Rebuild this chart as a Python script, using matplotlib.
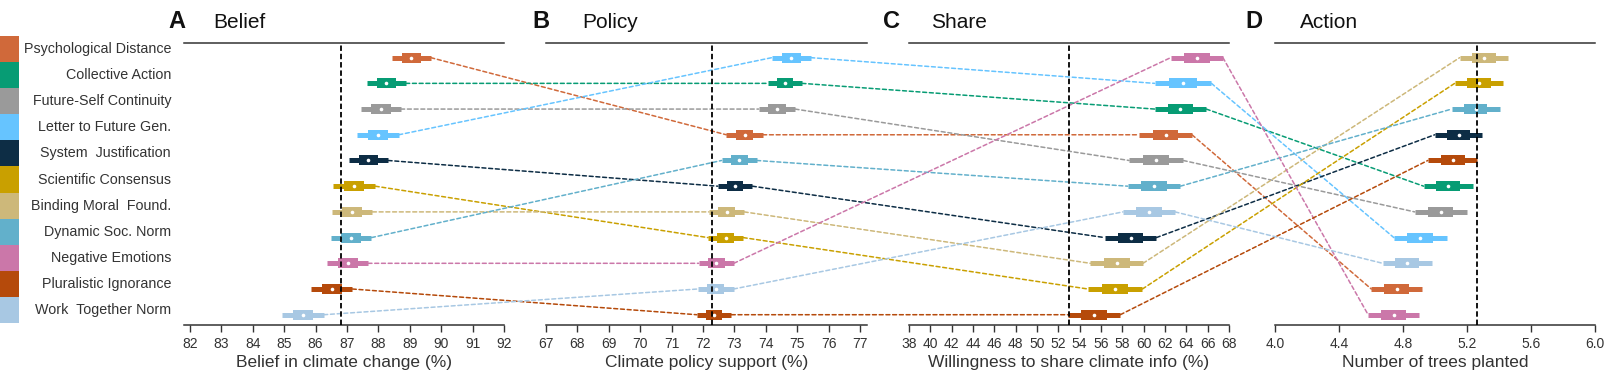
import matplotlib
matplotlib.use("Agg")
import matplotlib.pyplot as plt
from matplotlib.patches import ConnectionPatch, Rectangle
import numpy as np

plt.rcParams['font.family'] = ['Liberation Sans', 'DejaVu Sans']

# ---------------- data ----------------
conditions = ["Psychological Distance", "Collective Action", "Future-Self Continuity",
              "Letter to Future Gen.", "System  Justification", "Scientific Consensus",
              "Binding Moral  Found.", "Dynamic Soc. Norm", "Negative Emotions",
              "Pluralistic Ignorance", "Work  Together Norm"]
colors = ["#D0693A", "#079C74", "#9A9A9A", "#66C4FF", "#0D2D45", "#C9A000",
          "#CDB87A", "#62B0CB", "#CB77A9", "#B54A0B", "#A8C8E3"]

belief_mean = [89.05, 88.25, 88.08, 87.99, 87.68, 87.23, 87.16, 87.13, 87.02, 86.52, 85.60]
belief_ci = [0.62, 0.62, 0.63, 0.66, 0.63, 0.67, 0.65, 0.65, 0.65, 0.65, 0.66]
belief_ref = 86.80

policy_mean = [73.32, 74.61, 74.35, 74.81, 73.02, 72.72, 72.75, 73.15, 72.42, 72.35, 72.40]
policy_ci = [0.58, 0.54, 0.58, 0.62, 0.55, 0.56, 0.56, 0.56, 0.56, 0.55, 0.57]
policy_ref = 72.27

share_mean = [62.05, 63.45, 61.17, 63.69, 58.77, 57.33, 57.47, 60.97, 64.98, 55.35, 60.50]
share_ci = [2.48, 2.42, 2.54, 2.66, 2.42, 2.55, 2.47, 2.47, 2.45, 2.46, 2.44]
share_ref = 53.0

action_mean = [4.760, 5.082, 5.035, 4.908, 5.147, 5.275, 5.306, 5.254, 4.742, 5.110, 4.826]
action_ci = [0.158, 0.153, 0.162, 0.165, 0.149, 0.152, 0.152, 0.150, 0.160, 0.155, 0.153]
action_ref = 5.265

belief_ticks = list(range(82, 93))
policy_ticks = list(range(67, 78))
share_ticks = list(range(38, 69, 2))
action_ticks = [4.0, 4.4, 4.8, 5.2, 5.6, 6.0]

panel_letters = ["A", "B", "C", "D"]
panel_titles = ["Belief", "Policy", "Share", "Action"]
xlabels = ["Belief in climate change (%)", "Climate policy support (%)",
           "Willingness to share climate info (%)", "Number of trees planted"]

# ---------------- layout ----------------
W, H = 1610, 384
fig = plt.figure(figsize=(W / 100, H / 100), dpi=100)
fig.patch.set_facecolor("white")


def fx(px):
    return px / W


def fy(py):
    return 1 - py / H


top_px, bot_px = 43, 325
axes_px = [(184, 320), (546, 321), (909, 320), (1275, 320)]
xlims = [(81.81, 92), (67, 77.22), (38, 68), (4.0, 6.0)]
letter_x = [168, 532, 883, 1245]
title_x = [213, 582, 931, 1300]

panels = [
    (belief_mean, belief_ci, belief_ref, belief_ticks, [str(t) for t in belief_ticks]),
    (policy_mean, policy_ci, policy_ref, policy_ticks, [str(t) for t in policy_ticks]),
    (share_mean, share_ci, share_ref, share_ticks, [str(t) for t in share_ticks]),
    (action_mean, action_ci, action_ref, action_ticks, ["%.1f" % t for t in action_ticks]),
]

txt_col = "#333333"
thick_frac = 0.954 / 1.96  # 66% interval relative to 95% interval

axes = []
rows_all = []
for k, (mean, ci, ref, ticks, tlabels) in enumerate(panels):
    left, width = axes_px[k]
    ax = fig.add_axes([fx(left), fy(bot_px), width / W, (bot_px - top_px) / H])
    ax.set_facecolor("none")
    mean = np.asarray(mean)
    ci = np.asarray(ci)
    order = np.argsort(-mean, kind="stable")
    rows = np.empty(len(mean))
    rows[order] = np.arange(1, len(mean) + 1)
    rows_all.append(rows)
    for i in range(len(mean)):
        c = colors[i]
        ax.plot([mean[i] - ci[i], mean[i] + ci[i]], [rows[i], rows[i]], color=c,
                lw=3.6, solid_capstyle="butt", zorder=3)
        h = ci[i] * thick_frac
        ax.plot([mean[i] - h, mean[i] + h], [rows[i], rows[i]], color=c,
                lw=7.2, solid_capstyle="butt", zorder=3)
        ax.plot(mean[i], rows[i], "o", color="white", ms=2.6, mew=0, zorder=4)
    ax.axvline(ref, color="black", ls=(0, (3, 1.6)), lw=1.3, zorder=5)
    ax.set_xlim(*xlims[k])
    ax.set_ylim(11.4, 0.43)
    ax.set_yticks([])
    ax.set_xticks(ticks)
    ax.set_xticklabels(tlabels)
    for s in ["left", "right"]:
        ax.spines[s].set_visible(False)
    for s in ["top", "bottom"]:
        ax.spines[s].set_color(txt_col)
        ax.spines[s].set_linewidth(1.1)
    ax.tick_params(axis="x", direction="out", length=5, width=1.0, color=txt_col,
                   labelsize=10, labelcolor=txt_col, pad=3.5)
    ax.set_xlabel(xlabels[k], fontsize=12.5, color=txt_col, labelpad=3)
    fig.text(fx(letter_x[k]), fy(22), panel_letters[k], fontsize=17, fontweight="bold",
             ha="left", va="center", color="#111111")
    fig.text(fx(title_x[k]), fy(22), panel_titles[k], fontsize=15,
             ha="left", va="center", color="#111111")
    axes.append(ax)

# connectors between panels
for k in range(3):
    mA, cA = np.asarray(panels[k][0]), np.asarray(panels[k][1])
    mB, cB = np.asarray(panels[k + 1][0]), np.asarray(panels[k + 1][1])
    for i in range(len(conditions)):
        con = ConnectionPatch(xyA=(mA[i] + cA[i], rows_all[k][i]), coordsA=axes[k].transData,
                              xyB=(mB[i] - cB[i], rows_all[k + 1][i]), coordsB=axes[k + 1].transData,
                              color=colors[i], lw=1.1, linestyle=(0, (2.6, 1.8)),
                              arrowstyle="-", shrinkA=0, shrinkB=0, zorder=-1)
        fig.add_artist(con)

# legend column
leg_top, leg_bot = 36, 323
lax = fig.add_axes([0, fy(leg_bot), fx(19), (leg_bot - leg_top) / H])
n = len(conditions)
for i in range(n):
    lax.add_patch(Rectangle((0, i), 1, 1, color=colors[i], lw=0))
lax.set_xlim(0, 1)
lax.set_ylim(n, 0)
lax.axis("off")
step = (leg_bot - leg_top) / n
for i, name in enumerate(conditions):
    fig.text(fx(171), fy(leg_top + step * (i + 0.5)), name, ha="right", va="center",
             fontsize=10.3, color=txt_col)

fig.savefig("out.png", dpi=100)
